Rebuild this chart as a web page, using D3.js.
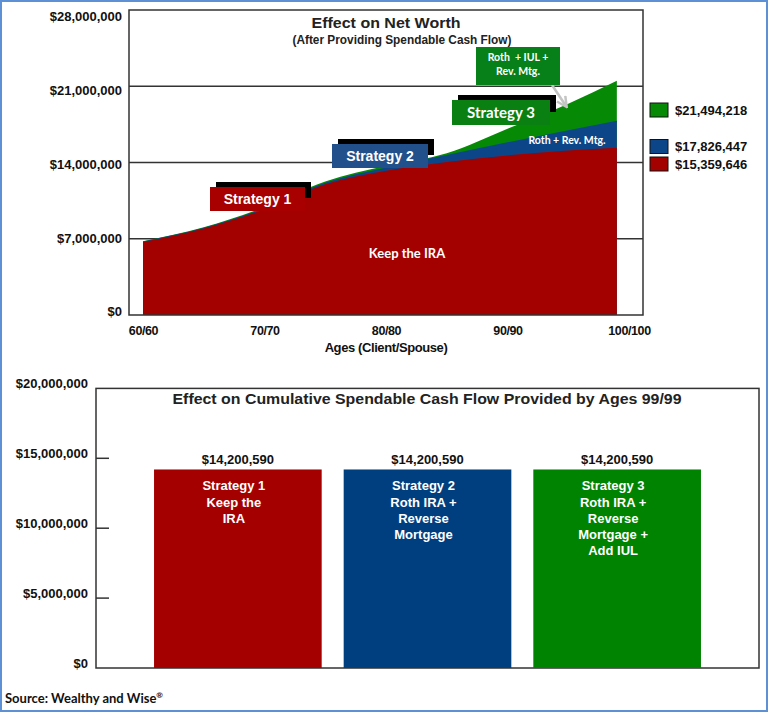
<!DOCTYPE html>
<html>
<head>
<meta charset="utf-8">
<script src="https://cdn.jsdelivr.net/npm/d3@7"></script>
<style>
  html, body { margin: 0; padding: 0; background: #fff; }
  svg { display: block; }
  .ar { font-family: "Liberation Sans", Arial, sans-serif; font-weight: bold; }
  .ca { font-family: Lato, "Open Sans", sans-serif; font-weight: bold; }
</style>
</head>
<body>
<div id="chart"></div>
<script>
// ---------------- DATA ----------------
// Top chart: net worth by age (client/spouse)
const ages        = [60, 65, 70, 75, 80, 85, 90, 95, 99];
const keepIRA     = [6.70e6, 7.95e6, 9.70e6, 12.00e6, 13.25e6, 14.05e6, 14.65e6, 15.10e6, 15.359646e6];
const rothRevMtg  = [6.75e6, 8.00e6, 9.80e6, 12.15e6, 13.55e6, 14.70e6, 15.85e6, 16.95e6, 17.826447e6];
const rothIulRev  = [6.78e6, 8.05e6, 9.90e6, 12.25e6, 13.70e6, 14.85e6, 17.10e6, 19.40e6, 21.494218e6];
const topYTicks   = [0, 7e6, 14e6, 21e6, 28e6];
const topXTicks   = [60, 70, 80, 90, 100];
const legendVals  = [21494218, 17826447, 15359646];

// Bottom chart: cumulative spendable cash flow by ages 99/99
const strategies  = ["Strategy 1", "Strategy 2", "Strategy 3"];
const cashFlow    = [14200590, 14200590, 14200590];
const barText     = [["Strategy 1", "Keep the", "IRA"],
                     ["Strategy 2", "Roth IRA +", "Reverse", "Mortgage"],
                     ["Strategy 3", "Roth IRA +", "Reverse", "Mortgage +", "Add IUL"]];
const botYTicks   = [0, 5e6, 10e6, 15e6, 20e6];

// ---------------- STYLE ----------------
const RED = "#a30000", BLUE = "#0d4688", GREEN = "#068a06";
const BAR_COLORS = ["#a50000", "#003f7f", "#008300"];
const money = d3.format("$,");

const svg = d3.select("#chart").append("svg")
  .attr("width", 769).attr("height", 713);

// outer border
svg.append("rect").attr("x", 1).attr("y", 1).attr("width", 766).attr("height", 710)
  .attr("fill", "none").attr("stroke", "#5e90d6").attr("stroke-width", 2);

// ================= TOP CHART =================
const T = {left: 129, right: 643, top: 10, bottom: 315};
const x = d3.scaleLinear().domain([60, 100]).range([143, 629]);
const y = d3.scaleLinear().domain([0, 28e6]).range([T.bottom, T.top]);
const yLab = d3.scaleLinear().domain([0, 28e6]).range([311.8, 16]);

const gTop = svg.append("g");

// gridlines
gTop.append("g").selectAll("line").data(topYTicks.filter(d => d > 0 && d < 28e6)).join("line")
  .attr("x1", T.left).attr("x2", T.right)
  .attr("y1", d => y(d)).attr("y2", d => y(d))
  .attr("stroke", "#333").attr("stroke-width", 1.5);

// areas (overlapping, drawn largest first)
const series = [
  {vals: rothIulRev, color: GREEN},
  {vals: rothRevMtg, color: BLUE},
  {vals: keepIRA, color: RED}
];
const area = d3.area()
  .x((d, i) => x(ages[i]))
  .y0(y(0))
  .y1(d => y(d))
  .curve(d3.curveMonotoneX);
gTop.append("g").selectAll("path").data(series).join("path")
  .attr("d", d => area(d.vals))
  .attr("fill", d => d.color);

// frame
gTop.append("path")
  .attr("d", `M${T.left},${T.top}H${T.right}V${T.bottom}H${T.left}Z`)
  .attr("fill", "none").attr("stroke", "#333").attr("stroke-width", 1.5);

// y labels
const yAx = gTop.append("g").attr("transform", "translate(125,0)")
  .call(d3.axisLeft(yLab).tickValues(topYTicks).tickFormat(money).tickSize(0).tickPadding(3));
yAx.select(".domain").remove();
yAx.selectAll("text").attr("class", "ar").attr("font-size", 13).attr("fill", "#111");

// x labels
const xAx = gTop.append("g").attr("transform", `translate(0,${T.bottom})`)
  .call(d3.axisBottom(x).tickValues(topXTicks).tickFormat(d => d + "/" + d).tickSize(0).tickPadding(11));
xAx.select(".domain").remove();
xAx.selectAll("text").attr("class", "ar").attr("font-size", 12.5).attr("fill", "#111")
  .attr("letter-spacing", "-0.4");

gTop.append("text").attr("class", "ar").attr("x", 386).attr("y", 352)
  .attr("text-anchor", "middle").attr("font-size", 13).attr("fill", "#111")
  .attr("letter-spacing", "-0.4")
  .text("Ages (Client/Spouse)");

// titles
gTop.append("text").attr("class", "ar").attr("x", 386).attr("y", 28)
  .attr("text-anchor", "middle").attr("font-size", 15).attr("fill", "#222")
  .attr("textLength", 149).attr("lengthAdjust", "spacingAndGlyphs")
  .text("Effect on Net Worth");
gTop.append("text").attr("class", "ar").attr("x", 402).attr("y", 43.5)
  .attr("text-anchor", "middle").attr("font-size", 12).attr("fill", "#222")
  .attr("textLength", 219).attr("lengthAdjust", "spacingAndGlyphs")
  .text("(After Providing Spendable Cash Flow)");

// in-area labels
gTop.append("text").attr("class", "ca").attr("x", 407).attr("y", 257.5)
  .attr("text-anchor", "middle").attr("font-size", 13).attr("fill", "#fff")
  .text("Keep the IRA");
gTop.append("text").attr("class", "ca").attr("x", 567).attr("y", 143.5)
  .attr("text-anchor", "middle").attr("font-size", 10.5).attr("fill", "#fff")
  .text("Roth + Rev. Mtg.");

// strategy callouts with 3D shadow
const callouts = [
  {text: "Strategy 1", x: 210, y: 187, w: 95, h: 24, fill: "#a80000", cls: "ar", fs: 14},
  {text: "Strategy 2", x: 332, y: 144, w: 96, h: 24, fill: "#22508a", cls: "ar", fs: 14},
  {text: "Strategy 3", x: 452, y: 100, w: 98, h: 25, fill: "#0a7f12", cls: "ca", fs: 15}
];
const cg = gTop.append("g").selectAll("g").data(callouts).join("g");
cg.append("rect").attr("x", d => d.x + 6).attr("y", d => d.y - 5)
  .attr("width", d => d.w).attr("height", d => d.h - 8).attr("fill", "#000");
cg.append("rect").attr("x", d => d.x).attr("y", d => d.y)
  .attr("width", d => d.w).attr("height", d => d.h).attr("fill", d => d.fill);
cg.append("text").attr("class", d => d.cls)
  .attr("x", d => d.x + d.w / 2).attr("y", d => d.y + d.h / 2 + d.fs * 0.36)
  .attr("text-anchor", "middle").attr("font-size", d => d.fs).attr("fill", "#fff")
  .text(d => d.text);

// Roth + IUL + Rev. Mtg. box with arrow
const defs = svg.append("defs");
defs.append("marker").attr("id", "arr").attr("viewBox", "0 0 10 10")
  .attr("refX", 8).attr("refY", 5).attr("markerWidth", 5).attr("markerHeight", 5)
  .attr("orient", "auto")
  .append("path").attr("d", "M1,1L9,5L1,9").attr("fill", "none")
  .attr("stroke", "#c4c4c4").attr("stroke-width", 2);
gTop.append("line").attr("x1", 552).attr("y1", 85).attr("x2", 566).attr("y2", 106)
  .attr("stroke", "#c4c4c4").attr("stroke-width", 2.5).attr("marker-end", "url(#arr)");
gTop.append("rect").attr("x", 476).attr("y", 47).attr("width", 84).attr("height", 38)
  .attr("fill", "#07801a");
gTop.append("text").attr("class", "ca").attr("x", 518).attr("y", 61)
  .attr("text-anchor", "middle").attr("font-size", 10.5).attr("fill", "#fff")
  .attr("xml:space", "preserve").text("Roth  + IUL +");
gTop.append("text").attr("class", "ca").attr("x", 518).attr("y", 75)
  .attr("text-anchor", "middle").attr("font-size", 10.5).attr("fill", "#fff")
  .text("Rev. Mtg.");

// legend
const legColors = [GREEN, BLUE, RED];
const legY = [103, 139.5, 157];
const lg = gTop.append("g").selectAll("g").data(legendVals).join("g")
  .attr("transform", (d, i) => `translate(650,${legY[i]})`);
lg.append("rect").attr("width", 18).attr("height", 14)
  .attr("fill", (d, i) => legColors[i]).attr("stroke", "#111").attr("stroke-width", 1);
lg.append("text").attr("class", "ar").attr("x", 25).attr("y", 11.5)
  .attr("font-size", 13).attr("fill", "#111").text(d => money(d));

// ================= BOTTOM CHART =================
const B = {left: 96, right: 759, top: 388.4, bottom: 668};
const yb = d3.scaleLinear().domain([0, 20e6]).range([B.bottom, B.top]);
const xb = d3.scaleBand().domain(strategies).range([B.left, B.right])
  .paddingInner(0.116).paddingOuter(0.306);

const gBot = svg.append("g");
gBot.append("rect").attr("x", B.left).attr("y", B.top)
  .attr("width", B.right - B.left).attr("height", B.bottom - B.top)
  .attr("fill", "none").attr("stroke", "#333").attr("stroke-width", 1.5);

// tick marks inside
gBot.append("g").selectAll("line").data(botYTicks.filter(d => d > 0 && d < 20e6)).join("line")
  .attr("x1", B.left).attr("x2", B.left + 13)
  .attr("y1", d => yb(d)).attr("y2", d => yb(d))
  .attr("stroke", "#333").attr("stroke-width", 1.5);

const ybAx = gBot.append("g").attr("transform", "translate(91,0)")
  .call(d3.axisLeft(yb).tickValues(botYTicks).tickFormat(money).tickSize(0).tickPadding(3));
ybAx.select(".domain").remove();
ybAx.selectAll("text").attr("class", "ar").attr("font-size", 13).attr("fill", "#111")
  .attr("dy", "-0.05em");

// title
gBot.append("text").attr("class", "ar").attr("x", 427).attr("y", 404)
  .attr("text-anchor", "middle").attr("font-size", 14).attr("fill", "#222")
  .attr("textLength", 509).attr("lengthAdjust", "spacingAndGlyphs")
  .text("Effect on Cumulative Spendable Cash Flow Provided by Ages 99/99");

// bars
const bars = gBot.append("g").selectAll("g").data(strategies).join("g");
bars.append("rect")
  .attr("x", d => xb(d)).attr("width", xb.bandwidth())
  .attr("y", (d, i) => yb(cashFlow[i]))
  .attr("height", (d, i) => yb(0) - yb(cashFlow[i]))
  .attr("fill", (d, i) => BAR_COLORS[i]);
bars.append("text").attr("class", "ar")
  .attr("x", d => xb(d) + xb.bandwidth() / 2)
  .attr("y", (d, i) => yb(cashFlow[i]) - 5)
  .attr("text-anchor", "middle").attr("font-size", 13).attr("fill", "#111")
  .text((d, i) => money(cashFlow[i]));
bars.each(function(d, i) {
  const g = d3.select(this);
  g.selectAll("text.inner").data(barText[i]).join("text")
    .attr("class", "inner ar")
    .attr("x", xb(d) + xb.bandwidth() / 2 - 4)
    .attr("y", (t, j) => yb(cashFlow[i]) + 21 + j * 16.1)
    .attr("text-anchor", "middle").attr("font-size", 13).attr("fill", "#fff")
    .text(t => t);
});

// source
svg.append("text").attr("class", "ca").attr("x", 5).attr("y", 703)
  .attr("font-size", 13).attr("fill", "#111")
  .html('Source: Wealthy and Wise<tspan font-size="8" dy="-5">®</tspan>');
</script>
</body>
</html>
